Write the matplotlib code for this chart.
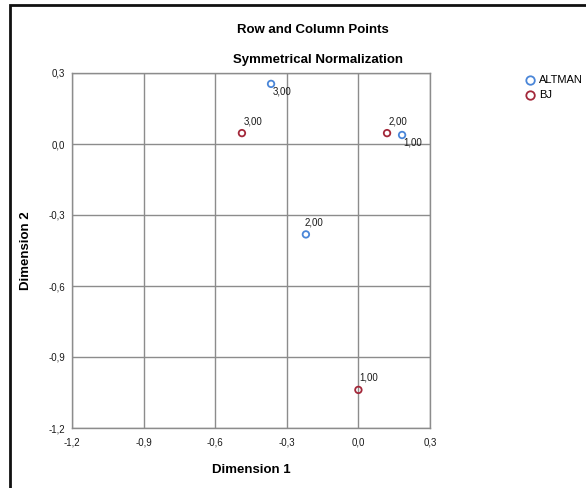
import matplotlib
matplotlib.use("Agg")
import matplotlib.pyplot as plt
from matplotlib.patches import Rectangle

plt.rcParams["font.family"] = ["Liberation Sans", "DejaVu Sans"]

# row points (ALTMAN) and column points (BJ)
altman_labels = ["1,00", "2,00", "3,00"]
altman_x = [0.183, -0.22, -0.366]
altman_y = [0.038, -0.382, 0.254]

bj_labels = ["1,00", "2,00", "3,00"]
bj_x = [0.0, 0.12, -0.488]
bj_y = [-1.039, 0.046, 0.046]

ticks = [-1.2, -0.9, -0.6, -0.3, 0.0, 0.3]
tick_labels = ["-1,2", "-0,9", "-0,6", "-0,3", "0,0", "0,3"]

blue = "#4a86d8"
red = "#a3283a"
txt = "#1a1a1a"

fig = plt.figure(figsize=(5.86, 4.88), dpi=100)
ax = fig.add_axes([72 / 586, 1 - 428 / 488, 358 / 586, 355 / 488])

ax.set_xlim(-1.2, 0.3)
ax.set_ylim(-1.2, 0.3)
ax.set_xticks(ticks)
ax.set_yticks(ticks)
ax.set_xticklabels(tick_labels, fontsize=7, color=txt)
ax.set_yticklabels(tick_labels, fontsize=7, color=txt)
ax.tick_params(axis="x", length=0, pad=7)
ax.tick_params(axis="y", length=0, pad=5)
ax.grid(True, color="#8c8c8c", linewidth=1.0)
ax.set_axisbelow(True)
for s in ax.spines.values():
    s.set_color("#8c8c8c")
    s.set_linewidth(1.0)

ax.scatter(altman_x, altman_y, s=22, facecolors="none", edgecolors=blue,
           linewidths=1.3, label="ALTMAN", zorder=3)
ax.scatter(bj_x, bj_y, s=22, facecolors="none", edgecolors=red,
           linewidths=1.3, label="BJ", zorder=3)

# label offsets in points
altman_off = [(1, -9), (-1, 5), (1, -9)]
bj_off = [(1, 5), (1, 5), (1, 5)]
for lab, x, y, o in zip(altman_labels, altman_x, altman_y, altman_off):
    ax.annotate(lab, (x, y), xytext=o, textcoords="offset points",
                fontsize=7, color=txt, va="bottom")
for lab, x, y, o in zip(bj_labels, bj_x, bj_y, bj_off):
    ax.annotate(lab, (x, y), xytext=o, textcoords="offset points",
                fontsize=7, color=txt, va="bottom")

ax.set_xlabel("Dimension 1", fontsize=9.5, fontweight="bold", labelpad=12)
ax.set_ylabel("Dimension 2", fontsize=9.5, fontweight="bold", labelpad=12)

fig.text(313 / 586, 1 - 30 / 488, "Row and Column Points", ha="center",
         va="center", fontsize=9.5, fontweight="bold")
fig.text(318 / 586, 1 - 60 / 488, "Symmetrical Normalization", ha="center",
         va="center", fontsize=9.5, fontweight="bold")

fig.legend(loc="upper left", bbox_to_anchor=(515 / 586, 1 - 71 / 488),
           frameon=False, fontsize=8, handletextpad=-0.2, labelspacing=0.45,
           markerscale=1.3, borderaxespad=0)

fig.patches.append(Rectangle((10 / 586, -0.1), 1.2, 1 - 5 / 488 + 0.1,
                             transform=fig.transFigure, fill=False,
                             edgecolor="#111111", linewidth=2))

plt.savefig("out.png", dpi=100)
print("Saved out.png")
